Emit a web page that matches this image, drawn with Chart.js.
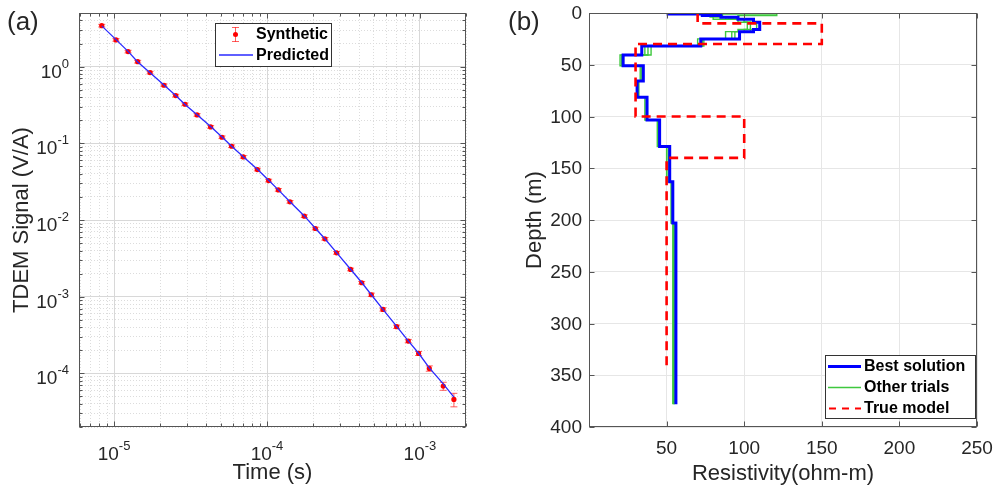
<!DOCTYPE html>
<html><head><meta charset="utf-8">
<script src="https://cdn.jsdelivr.net/npm/chart.js@4.4.0/dist/chart.umd.min.js"></script>
<style>
html,body{margin:0;padding:0;background:#fff;}
#wrap{position:relative;width:996px;height:491px;overflow:hidden;background:#fff;}
canvas{position:absolute;left:0;top:0;}
</style></head><body>
<div id="wrap"><canvas id="ca" width="996" height="491"></canvas><canvas id="cb" width="996" height="491"></canvas></div>
<script>
// ---------- Panel (a) data ----------
const times = [8.31e-6, 1.03e-5, 1.235e-5, 1.428e-5, 1.72e-5, 2.12e-5, 2.53e-5, 2.91e-5, 3.49e-5, 4.28e-5,
  5.08e-5, 5.87e-5, 7.0e-5, 8.65e-5, 1.025e-4, 1.186e-4, 1.413e-4, 1.754e-4, 2.07e-4, 2.39e-4,
  2.85e-4, 3.52e-4, 4.16e-4, 4.81e-4, 5.73e-4, 7.04e-4, 8.39e-4, 9.8e-4, 1.151e-3, 1.42e-3, 1.667e-3];
const synthetic = [3.42, 2.23, 1.57, 1.16, 0.835, 0.571, 0.419, 0.323, 0.2346, 0.1637,
  0.12, 0.0916, 0.0665, 0.0455, 0.0327, 0.0247, 0.01725, 0.01122, 0.00775, 0.00569,
  0.00373, 0.002265, 0.00152, 0.00106, 6.82e-4, 4.06e-4, 2.64e-4, 1.82e-4, 1.16e-4, 6.84e-5, 4.58e-5];
const synthErr = [0.04, 0.04, 0.04, 0.04, 0.04, 0.04, 0.04, 0.04, 0.04, 0.04,
  0.04, 0.04, 0.04, 0.04, 0.04, 0.04, 0.04, 0.04, 0.04, 0.04,
  0.04, 0.04, 0.04, 0.05, 0.05, 0.05, 0.05, 0.06, 0.08, 0.12, 0.2];
const predicted = [3.40, 2.25, 1.58, 1.15, 0.83, 0.575, 0.42, 0.32, 0.236, 0.166,
  0.121, 0.0915, 0.067, 0.0458, 0.033, 0.0247, 0.0173, 0.0113, 0.0078, 0.0057,
  0.00375, 0.00228, 0.00153, 0.00106, 6.85e-4, 4.1e-4, 2.65e-4, 1.83e-4, 1.18e-4, 7.3e-5, 4.9e-5];
const xTickExpA = [-5, -4, -3];
const yTickExpA = [0, -1, -2, -3, -4];
const xRangeA = [5.9e-6, 2.0e-3];
const yRangeA = [2.0e-5, 5.0];

// ---------- Panel (b) data ----------
const layerTops = [0, 1, 2.5, 4, 6, 9, 16, 18, 25, 32, 40.6, 51, 65.7, 81.5, 103.4, 129, 163, 203];
const modelBottom = 378;
const bestRes   = [51, 73, 85, 96, 106, 110, 106, 97, 72, 34, 22, 35, 31, 37.4, 45.5, 52, 54, 56];
const trial1Res = [62, 121, 96, 88, 100, 104, 100, 92, 70, 38, 20, 33, 32, 37, 45, 51, 53, 54.5];
const trial2Res = [55, 86, 78, 80, 96, 102, 96, 88, 74, 40, 21, 34, 32, 36, 44, 50, 53, 54];
const trial3Res = [52, 76, 80, 90, 100, 108, 104, 94, 73, 36, 22, 35, 31, 37, 45, 52, 54, 55];
const trueTops = [0, 10, 30, 100, 140];
const trueRes = [70, 150, 30, 100, 50];
const trueBottom = 345;
const xTicksB = [50, 100, 150, 200, 250];
const yTicksB = [0, 50, 100, 150, 200, 250, 300, 350, 400];
const xRangeB = [0, 250];
const yRangeB = [0, 400];

// ---------- helpers ----------
const FONT = '"Liberation Sans", Arial, Helvetica, sans-serif';
const TXT = '#262626';
const AX = '#555555';

function text(ctx, s, x, y, o = {}) {
  ctx.save();
  ctx.font = `${o.weight || 'normal'} ${o.size || 19}px ${FONT}`;
  ctx.fillStyle = o.color || TXT;
  ctx.textAlign = o.align || 'center';
  ctx.textBaseline = o.baseline || 'middle';
  ctx.translate(x, y);
  if (o.rot) ctx.rotate(o.rot);
  ctx.fillText(s, 0, 0);
  ctx.restore();
}
function powLabel(ctx, exp, x, baseY, align) {
  ctx.save();
  ctx.fillStyle = TXT;
  ctx.textAlign = 'left'; ctx.textBaseline = 'alphabetic';
  ctx.font = `19px ${FONT}`; const w1 = ctx.measureText('10').width;
  ctx.font = `13px ${FONT}`; const es = String(exp); const w2 = ctx.measureText(es).width;
  const x0 = align === 'right' ? x - w1 - w2 : x - (w1 + w2) / 2;
  ctx.font = `19px ${FONT}`; ctx.fillText('10', x0, baseY);
  ctx.font = `13px ${FONT}`; ctx.fillText(es, x0 + w1, baseY - 10);
  ctx.restore();
}
function logTicks(min, max) {
  const out = [];
  for (let e = Math.floor(Math.log10(min)); e <= Math.ceil(Math.log10(max)); e++) {
    for (let m = 1; m <= 9; m++) {
      const v = parseFloat((m * Math.pow(10, e)).toPrecision(6));
      if (v >= min * 0.9999 && v <= max * 1.0001) out.push({ value: v, major: m === 1 });
    }
  }
  return out;
}
function frame(ctx, area, xs, ys, xt, yt) {
  ctx.save();
  ctx.strokeStyle = AX; ctx.lineWidth = 1;
  const L = Math.round(area.left) + 0.5, R = Math.round(area.right) - 0.5;
  const T = Math.round(area.top) + 0.5, B = Math.round(area.bottom) - 0.5;
  ctx.beginPath();
  xt.forEach(t => { const p = Math.round(xs.getPixelForValue(t.v)) + 0.5;
    ctx.moveTo(p, B); ctx.lineTo(p, B - t.len); ctx.moveTo(p, T); ctx.lineTo(p, T + t.len); });
  yt.forEach(t => { const p = Math.round(ys.getPixelForValue(t.v)) + 0.5;
    ctx.moveTo(L, p); ctx.lineTo(L + t.len, p); ctx.moveTo(R, p); ctx.lineTo(R - t.len, p); });
  ctx.stroke();
  ctx.strokeRect(L, T, R - L, B - T);
  ctx.restore();
}
function stepPoints(tops, res, bottom) {
  const pts = [];
  for (let i = 0; i < tops.length; i++) {
    const b = i < tops.length - 1 ? tops[i + 1] : bottom;
    pts.push({ x: res[i], y: tops[i] }, { x: res[i], y: b });
  }
  return pts;
}
const isMajorTick = c => c.tick && c.tick.major;

// ---------- Chart (a) ----------
const pluginA = {
  id: 'pluginA',
  beforeDatasetsDraw(chart) {
    const { ctx, scales: { x, y } } = chart;
    ctx.save();
    ctx.strokeStyle = 'rgba(255,40,40,0.75)'; ctx.lineWidth = 1;
    ctx.beginPath();
    times.forEach((t, i) => {
      const v = synthetic[i], e = synthErr[i] * v;
      const px = x.getPixelForValue(t);
      const y1 = y.getPixelForValue(v + e), y2 = y.getPixelForValue(v - e);
      ctx.moveTo(px, y1); ctx.lineTo(px, y2);
      ctx.moveTo(px - 3.5, y1); ctx.lineTo(px + 3.5, y1);
      ctx.moveTo(px - 3.5, y2); ctx.lineTo(px + 3.5, y2);
    });
    ctx.stroke();
    ctx.restore();
  },
  afterDraw(chart) {
    const { ctx, chartArea: a, scales: { x, y } } = chart;
    frame(ctx, a, x, y,
      x.ticks.map(t => ({ v: t.value, len: t.major ? 5 : 3 })),
      y.ticks.map(t => ({ v: t.value, len: t.major ? 5 : 3 })));
    xTickExpA.forEach(e => powLabel(ctx, e, x.getPixelForValue(Math.pow(10, e)), 460, 'center'));
    yTickExpA.forEach(e => powLabel(ctx, e, 69, y.getPixelForValue(Math.pow(10, e)) + 11, 'right'));
    text(ctx, 'Time (s)', (a.left + a.right) / 2, 473, { size: 22 });
    text(ctx, 'TDEM Signal (V/A)', 22, (a.top + a.bottom) / 2, { size: 22, rot: -Math.PI / 2 });
    text(ctx, '(a)', 7, 23, { size: 26, align: 'left' });
    // legend
    ctx.save();
    ctx.fillStyle = '#fff'; ctx.strokeStyle = '#333'; ctx.lineWidth = 1;
    ctx.fillRect(215.5, 23.5, 116, 43); ctx.strokeRect(215.5, 23.5, 116, 43);
    ctx.strokeStyle = 'rgba(255,40,40,0.75)';
    ctx.beginPath();
    ctx.moveTo(235.5, 27); ctx.lineTo(235.5, 42);
    ctx.moveTo(232, 27.5); ctx.lineTo(239, 27.5);
    ctx.moveTo(232, 41.5); ctx.lineTo(239, 41.5);
    ctx.stroke();
    ctx.fillStyle = '#ff0000';
    ctx.beginPath(); ctx.arc(235.5, 34.5, 2.5, 0, Math.PI * 2); ctx.fill();
    ctx.strokeStyle = '#2a2aff'; ctx.lineWidth = 1.3;
    ctx.beginPath(); ctx.moveTo(219, 55); ctx.lineTo(253, 55); ctx.stroke();
    ctx.restore();
    text(ctx, 'Synthetic', 256, 35, { size: 16, weight: 'bold', align: 'left', color: '#000' });
    text(ctx, 'Predicted', 256, 56, { size: 16, weight: 'bold', align: 'left', color: '#000' });
  }
};

new Chart(document.getElementById('ca'), {
  type: 'scatter',
  data: {
    datasets: [
      { label: 'Predicted', data: times.map((t, i) => ({ x: t, y: predicted[i] })), showLine: true,
        borderColor: '#2a2aff', borderWidth: 1.3, pointRadius: 0, tension: 0, fill: false },
      { label: 'Synthetic', data: times.map((t, i) => ({ x: t, y: synthetic[i] })), showLine: false,
        pointRadius: 2.6, pointBackgroundColor: '#ff0000', pointBorderColor: '#ff0000', pointBorderWidth: 0 }
    ]
  },
  options: {
    responsive: false, animation: false, devicePixelRatio: 1, events: [],
    layout: { padding: { left: 79, top: 13, right: 996 - 466, bottom: 491 - 427 } },
    plugins: { legend: { display: false }, tooltip: { enabled: false } },
    scales: {
      x: { type: 'logarithmic', min: xRangeA[0], max: xRangeA[1],
        afterBuildTicks: s => { s.ticks = logTicks(xRangeA[0], xRangeA[1]); },
        ticks: { display: false },
        grid: { drawTicks: false, lineWidth: 1, color: c => isMajorTick(c) ? '#d8d8d8' : '#dcdcdc' },
        border: { display: false, dash: c => isMajorTick(c) ? [] : [1, 2] } },
      y: { type: 'logarithmic', min: yRangeA[0], max: yRangeA[1],
        afterBuildTicks: s => { s.ticks = logTicks(yRangeA[0], yRangeA[1]); },
        ticks: { display: false },
        grid: { drawTicks: false, lineWidth: 1, color: c => isMajorTick(c) ? '#d8d8d8' : '#dcdcdc' },
        border: { display: false, dash: c => isMajorTick(c) ? [] : [1, 2] } }
    }
  },
  plugins: [pluginA]
});

// ---------- Chart (b) ----------
const pluginB = {
  id: 'pluginB',
  afterDraw(chart) {
    const { ctx, chartArea: a, scales: { x, y } } = chart;
    frame(ctx, a, x, y,
      [0].concat(xTicksB).map(v => ({ v, len: 5 })),
      yTicksB.map(v => ({ v, len: 5 })));
    xTicksB.forEach(v => text(ctx, String(v), x.getPixelForValue(v), 449, { size: 19 }));
    yTicksB.forEach(v => text(ctx, String(v), 582, y.getPixelForValue(v) + 1, { size: 19, align: 'right' }));
    text(ctx, 'Resistivity(ohm-m)', (a.left + a.right) / 2, 474, { size: 22 });
    text(ctx, 'Depth (m)', 535, (a.top + a.bottom) / 2, { size: 22, rot: -Math.PI / 2 });
    text(ctx, '(b)', 508, 23, { size: 26, align: 'left' });
    // legend
    ctx.save();
    ctx.fillStyle = '#fff'; ctx.strokeStyle = '#333'; ctx.lineWidth = 1;
    ctx.fillRect(825.5, 355.5, 150, 63); ctx.strokeRect(825.5, 355.5, 150, 63);
    ctx.strokeStyle = '#0000ff'; ctx.lineWidth = 3;
    ctx.beginPath(); ctx.moveTo(828, 366.5); ctx.lineTo(861, 366.5); ctx.stroke();
    ctx.strokeStyle = '#3ec83e'; ctx.lineWidth = 1.3;
    ctx.beginPath(); ctx.moveTo(828, 387.5); ctx.lineTo(861, 387.5); ctx.stroke();
    ctx.strokeStyle = '#ff0000'; ctx.lineWidth = 2; ctx.setLineDash([7, 6]);
    ctx.beginPath(); ctx.moveTo(829, 408.5); ctx.lineTo(861, 408.5); ctx.stroke();
    ctx.restore();
    text(ctx, 'Best solution', 864, 367, { size: 16, weight: 'bold', align: 'left', color: '#000' });
    text(ctx, 'Other trials', 864, 388, { size: 16, weight: 'bold', align: 'left', color: '#000' });
    text(ctx, 'True model', 864, 409, { size: 16, weight: 'bold', align: 'left', color: '#000' });
  }
};

const greenStyle = { showLine: true, borderColor: '#3ec83e', borderWidth: 1.4, pointRadius: 0, tension: 0, fill: false };
new Chart(document.getElementById('cb'), {
  type: 'scatter',
  data: {
    datasets: [
      { label: 'True model', data: stepPoints(trueTops, trueRes, trueBottom), showLine: true,
        borderColor: '#ff0000', borderWidth: 2.6, borderDash: [9, 6], pointRadius: 0, tension: 0, fill: false },
      { label: 'Best solution', data: stepPoints(layerTops, bestRes, modelBottom), showLine: true,
        borderColor: '#0000ff', borderWidth: 3, pointRadius: 0, tension: 0, fill: false },
      Object.assign({ label: 'Other trials', data: stepPoints(layerTops, trial1Res, modelBottom) }, greenStyle),
      Object.assign({ label: 'Trial 2', data: stepPoints(layerTops, trial2Res, modelBottom) }, greenStyle),
      Object.assign({ label: 'Trial 3', data: stepPoints(layerTops, trial3Res, modelBottom) }, greenStyle)
    ]
  },
  options: {
    responsive: false, animation: false, devicePixelRatio: 1, events: [],
    layout: { padding: { left: 589, top: 13, right: 996 - 977, bottom: 491 - 427 } },
    plugins: { legend: { display: false }, tooltip: { enabled: false } },
    scales: {
      x: { type: 'linear', min: xRangeB[0], max: xRangeB[1], ticks: { display: false, stepSize: 50 },
        grid: { drawTicks: false, color: '#e6e6e6', lineWidth: 1 }, border: { display: false } },
      y: { type: 'linear', reverse: true, min: yRangeB[0], max: yRangeB[1], ticks: { display: false, stepSize: 50 },
        grid: { drawTicks: false, color: '#e6e6e6', lineWidth: 1 }, border: { display: false } }
    }
  },
  plugins: [pluginB]
});
</script>
</body></html>
